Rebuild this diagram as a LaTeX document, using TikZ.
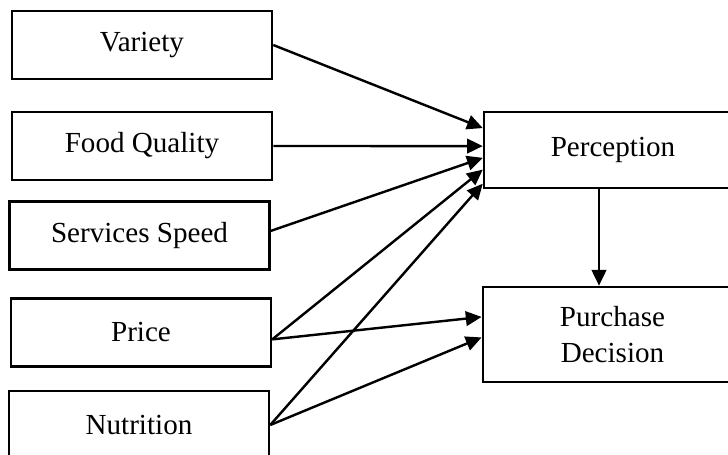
\documentclass[tikz,border=0pt]{standalone}
\usepackage{fontspec}
\setmainfont{Liberation Serif}
\usetikzlibrary{calc,arrows.meta}

\begin{document}
\begin{tikzpicture}[x=0.0145cm, y=-0.0145cm, >={Triangle[length=6.5pt,width=6pt]}, line width=1pt,
    font=\fontsize{12}{14.5}\selectfont,
    factor/.style={draw, minimum width=3.77cm, minimum height=0.99cm, inner sep=0pt, align=center}]
  \useasboundingbox (0,0) rectangle (728,455);
  \clip (0,0) rectangle (728,455);
  % factors on the left
  \node[factor] (variety) at (142,45) {Variety};
  \node[factor] (food) at (142,146) {Food Quality};
  \node[factor] (speed) at (139.5,235.5) {Services Speed};
  \node[factor] (price) at (141,332.5) {Price};
  \node[factor] (nutri) at (139,425) {Nutrition};
  % outcomes on the right
  \node[draw, minimum width=3.74cm, minimum height=1.10cm, inner sep=0pt] (perc) at (613,150) {Perception};
  \node[draw, minimum width=3.76cm, minimum height=1.38cm, inner sep=0pt, align=center] (purch) at (612.5,334.5) {Purchase\\Decision};
  % arrow ends along the left sides
  \coordinate (p1) at ($(perc.north west)!0.22!(perc.south west)$);
  \coordinate (p2) at ($(perc.north west)!0.45!(perc.south west)$);
  \coordinate (p3) at ($(perc.north west)!0.60!(perc.south west)$);
  \coordinate (p4) at ($(perc.north west)!0.75!(perc.south west)$);
  \coordinate (p5) at ($(perc.north west)!0.93!(perc.south west)$);
  \coordinate (d1) at ($(purch.north west)!0.32!(purch.south west)$);
  \coordinate (d2) at ($(purch.north west)!0.53!(purch.south west)$);
  \coordinate (pdown) at ($(perc.south)+(-14,0)$);
  \draw[->] (variety.east) -- (p1);
  \draw[->] (food.east) -- (p2);
  \draw[->] (speed.2) -- (p3);
  \draw[->] (price.357) -- (p4);
  \draw[->] (nutri.east) -- (p5);
  \draw[->] (price.357) -- (d1);
  \draw[->] (nutri.east) -- (d2);
  \draw[->] (pdown) -- (pdown |- purch.north);
\end{tikzpicture}
\end{document}
